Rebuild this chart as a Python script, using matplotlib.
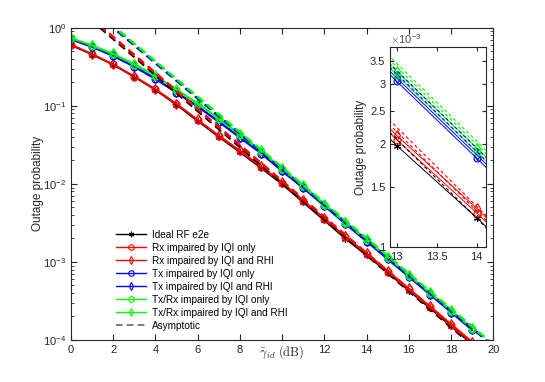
import matplotlib
matplotlib.use('Agg')
import matplotlib.pyplot as plt
from matplotlib.lines import Line2D
import numpy as np

plt.rcParams['font.family'] = ['Liberation Sans', 'DejaVu Sans']
plt.rcParams['mathtext.fontset'] = 'cm'

snr_db = np.arange(0, 20)

# outage probability
ideal = [0.60, 0.455, 0.336, 0.235, 0.160, 0.103, 0.064, 0.040, 0.0255, 0.0160,
         0.0099, 0.0058, 0.00340, 1.98e-3, 1.22e-3, 7.3e-4, 4.3e-4, 2.55e-4, 1.50e-4, 8.8e-5]
rx_iqi = [0.61, 0.46, 0.340, 0.238, 0.163, 0.105, 0.066, 0.041, 0.0263, 0.0165,
          0.0102, 0.0060, 0.00353, 2.06e-3, 1.26e-3, 7.5e-4, 4.45e-4, 2.65e-4, 1.56e-4, 9.2e-5]
rx_rhi = [0.615, 0.465, 0.343, 0.241, 0.165, 0.107, 0.067, 0.042, 0.0270, 0.0169,
          0.0105, 0.0062, 0.00363, 2.12e-3, 1.30e-3, 7.75e-4, 4.6e-4, 2.73e-4, 1.61e-4, 9.5e-5]
tx_iqi = [0.71, 0.565, 0.435, 0.315, 0.220, 0.147, 0.097, 0.062, 0.039, 0.0245,
          0.0145, 0.0088, 0.0052, 3.05e-3, 1.82e-3, 1.08e-3, 6.4e-4, 3.8e-4, 2.25e-4, 1.33e-4]
tx_rhi = [0.72, 0.575, 0.445, 0.322, 0.226, 0.151, 0.100, 0.064, 0.0402, 0.0252,
          0.0150, 0.0091, 0.00535, 3.12e-3, 1.86e-3, 1.11e-3, 6.6e-4, 3.9e-4, 2.31e-4, 1.37e-4]
txrx_iqi = [0.74, 0.59, 0.46, 0.338, 0.240, 0.160, 0.106, 0.068, 0.042, 0.0262,
            0.0154, 0.0093, 0.00544, 3.18e-3, 1.90e-3, 1.13e-3, 6.7e-4, 3.97e-4, 2.35e-4, 1.39e-4]
txrx_rhi = [0.75, 0.60, 0.47, 0.346, 0.246, 0.164, 0.109, 0.070, 0.0435, 0.0270,
            0.0158, 0.0096, 0.0056, 3.26e-3, 1.95e-3, 1.16e-3, 6.9e-4, 4.08e-4, 2.42e-4, 1.43e-4]

# asymptotes (straight in log scale), values at 0 dB and 20 dB
asym_x = [0, 20]
asym_ideal = [2.08, 5.0e-5]
asym_rx_iqi = [2.19, 5.25e-5]
asym_rx_rhi = [2.25, 5.42e-5]
asym_tx_iqi = [2.84, 8.3e-5]
asym_tx_rhi = [2.90, 8.5e-5]
asym_txrx_iqi = [2.98, 8.7e-5]
asym_txrx_rhi = [3.05, 8.9e-5]

labels = ['Ideal RF e2e', 'Rx impaired by IQI only', 'Rx impaired by IQI and RHI',
          'Tx impaired by IQI only', 'Tx impaired by IQI and RHI',
          'Tx/Rx impaired by IQI only', 'Tx/Rx impaired by IQI and RHI']
curves = [ideal, rx_iqi, rx_rhi, tx_iqi, tx_rhi, txrx_iqi, txrx_rhi]
asyms = [asym_ideal, asym_rx_iqi, asym_rx_rhi, asym_tx_iqi, asym_tx_rhi,
         asym_txrx_iqi, asym_txrx_rhi]
colors = ['k', 'r', 'r', 'b', 'b', (0, 1, 0), (0, 1, 0)]
asterisk = (6, 2, 0)
markers = [asterisk, 'o', 'd', 'o', 'd', 'o', 'd']
axc = '0.15'
txtc = '0.15'

fig = plt.figure(figsize=(5.45, 3.82), dpi=100)
ax = fig.add_axes([0.130, 0.110, 0.775, 0.817])


def draw(a, lw, dlw, ms, dashes):
    for y, c, m in zip(curves, colors, markers):
        a.plot(snr_db, y, color=c, lw=lw, marker=m, ms=ms, mfc='none', mew=0.8)
    for y, c in zip(asyms, colors):
        a.plot(asym_x, y, color=c, lw=dlw, ls='--', dashes=dashes)


draw(ax, 1.1, 1.4, 5, (4, 2.5))
ax.set_yscale('log')
ax.set_xlim(0, 20)
ax.set_ylim(1e-4, 1)
ax.set_xticks(range(0, 21, 2))
ax.set_xticklabels(['0', '2', '4', '6', '8', '', '12', '14', '16', '18', '20'])
ax.tick_params(which='both', direction='in', top=True, right=True, colors=axc,
               labelsize=8, labelcolor=txtc)
ax.tick_params(which='major', length=4)
ax.tick_params(which='minor', length=2)
for s in ax.spines.values():
    s.set_color(axc)
# x label sits on the tick label row, in place of the "10"
ax.text(10, -0.012, r'$\bar{\gamma}_{id}\ \mathrm{(dB)}$', transform=ax.get_xaxis_transform(),
        fontsize=9, color=txtc, ha='center', va='top')
ax.set_ylabel('Outage probability', fontsize=8.5, color=txtc, labelpad=-1)

handles = [Line2D([], [], color=c, lw=1.0, marker=m, ms=4, mfc='none', mew=0.8)
           for c, m in zip(colors, markers)]
handles.append(Line2D([], [], color='0.4', lw=1.2, ls='--', dashes=(4, 2.5)))
ax.legend(handles, labels + ['Asymptotic'], loc='lower left',
          bbox_to_anchor=(0.108, 0.03), frameon=False, fontsize=7.2,
          handlelength=3.0, labelspacing=0.3, handletextpad=0.6, borderpad=0,
          borderaxespad=0)

# zoomed inset
ins = fig.add_axes([0.716, 0.353, 0.176, 0.524])
draw(ins, 0.7, 0.8, 5, (3, 2.5))
ins.set_yscale('log')
ins.set_xlim(12.92, 14.12)
ins.set_ylim(1e-3, 3.84e-3)
ins.set_xticks([13, 13.5, 14])
ins.set_xticklabels(['13', '13.5', '14'])
ins.set_yticks([1e-3, 1.5e-3, 2e-3, 2.5e-3, 3e-3, 3.5e-3])
ins.set_yticklabels(['1', '1.5', '2', '2.5', '3', '3.5'])
ins.minorticks_off()
ins.tick_params(which='both', direction='in', top=True, right=True, colors=axc,
                labelsize=8, labelcolor=txtc, length=3)
for s in ins.spines.values():
    s.set_color(axc)
ins.set_ylabel('Outage probability', fontsize=8.5, color=txtc, labelpad=2)
ins.text(0.0, 1.005, r'$\times\mathregular{10^{-3}}$', transform=ins.transAxes, fontsize=8,
         color='0.3', ha='left', va='bottom')

fig.savefig('out.png', dpi=100)
